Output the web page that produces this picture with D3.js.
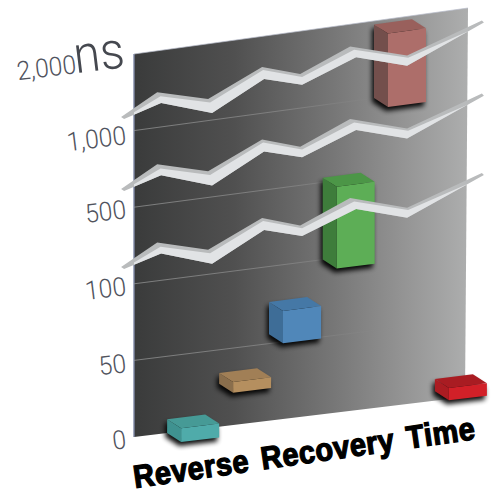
<!DOCTYPE html>
<html>
<head>
<meta charset="utf-8">
<script src="https://cdn.jsdelivr.net/npm/d3@7"></script>
<style>
html,body{margin:0;padding:0;background:#fff}
svg{display:block}
</style>
</head>
<body>
<svg id="chart" width="494" height="493"></svg>
<script>
// Axis rungs are evenly spaced, so the nanosecond scale is piecewise.
const tickValues = [0, 50, 100, 500, 1000, 2000];
const tickLabels = ["0", "50", "100", "500", "1,000", "2,000"];

// Devices: recovery-time span (ns) and position along the wall (0-100).
const deviceNames = ["teal", "tan", "blue", "green", "rose", "red"];
const deviceLow = [0, 28, 56, 100, 1000, 6];
const deviceHigh = [9, 35, 77, 530, 1950, 14];
const devicePos = [10, 25.7, 40.8, 57, 72.5, 90.9];
const deviceFront = ["#4fabaa", "#b58f5f", "#5087b9", "#5dae56", "#ad6e6a", "#d22028"];
const deviceSide = ["#3f9290", "#8a6e4c", "#3e6d97", "#3e7d3b", "#734f4c", "#ab1c22"];
const deviceTop = ["#469a96", "#a17f56", "#4578a6", "#4c9647", "#99605c", "#a91c22"];

// Axis-break ribbons: edges of the uppermost ribbon, in rungs, and where the others sit.
const ribbonOffsets = [0, -0.94, -1.96];
const backPos = [-3.9, 7.0, 22.4, 38.7, 50.2, 65.3, 82.5, 105.1];
const backRung = [4.20, 4.46, 4.28, 4.60, 4.44, 4.71, 4.49, 4.81];
const lowerPos = [-3.0, 8.2, 23.6, 39.3, 50.8, 67.1, 82.5, 105.7];
const lowerRung = [4.17, 4.31, 4.09, 4.44, 4.30, 4.56, 4.36, 4.78];
const upperPos = [0, 8.0, 23, 39, 50.8, 66.5, 82.8, 100.6];
const upperRung = [4.24, 4.40, 4.23, 4.56, 4.40, 4.66, 4.46, 4.69];

const titleText = "Reverse Recovery Time";
const unitText = "ns";

const x = d3.scaleLinear().domain([0, 100]).range([134, 465]);
const rung = d3.scaleLinear().domain(tickValues).range(d3.range(tickValues.length));
const yLeft = d3.scaleLinear().domain([0, 5]).range([437, 54]);
const yRight = d3.scaleLinear().domain([0, 5]).range([397, 8]);

// Pixel height of a rung at a position along the skewed wall.
const wallY = (r, p) => yLeft(r) + (yRight(r) - yLeft(r)) * p / 100;
const wallPoint = (r, p) => [x(p), wallY(r, p)];
const pathOf = pts => "M" + pts.map(q => q[0].toFixed(1) + "," + q[1].toFixed(1)).join("L") + "Z";

const svg = d3.select("#chart");
const defs = svg.append("defs");

const wallGrad = defs.append("linearGradient").attr("id", "wallFill");
[[0, "#3a3b3b"], [0.3, "#505050"], [0.6, "#777777"], [0.8, "#939393"], [1, "#adaeae"]].forEach(s =>
  wallGrad.append("stop").attr("offset", s[0]).attr("stop-color", s[1]));

const gridGrad = defs.append("linearGradient").attr("id", "gridFade")
  .attr("gradientUnits", "userSpaceOnUse").attr("x1", x(0)).attr("x2", x(80)).attr("y1", 0).attr("y2", 0);
gridGrad.append("stop").attr("offset", 0).attr("stop-color", "#9a9b9b");
gridGrad.append("stop").attr("offset", 0.6).attr("stop-color", "#8a8a8a");
gridGrad.append("stop").attr("offset", 1).attr("stop-color", "#8a8a8a").attr("stop-opacity", 0);

defs.append("filter").attr("id", "soft").attr("x", "-40%").attr("y", "-40%").attr("width", "180%").attr("height", "180%")
  .append("feGaussianBlur").attr("stdDeviation", 2.6);

const wallCorners = [
  [x(0), wallY(0, 0)],
  [x(0), wallY(5, 0)],
  [x(100.9), wallY(5, 100)],
  [x(100), wallY(0, 100)]
];
defs.append("clipPath").attr("id", "wallClip").append("path").attr("d", pathOf(wallCorners));

// Wall
svg.append("path").attr("d", pathOf(wallCorners)).attr("fill", "url(#wallFill)");
svg.append("line")
  .attr("x1", x(0)).attr("x2", x(0)).attr("y1", wallY(0, 0)).attr("y2", wallY(5, 0))
  .attr("stroke", "#7e88a6").attr("stroke-width", 1.4);
svg.append("line")
  .attr("x1", x(0)).attr("x2", x(100.9)).attr("y1", wallY(5, 0)).attr("y2", wallY(5, 100))
  .attr("stroke", "#b9bdcc").attr("stroke-width", 0.7);

// Gridlines
svg.append("g").selectAll("line").data(d3.range(1, 5)).join("line")
  .attr("x1", x(0)).attr("y1", r => wallY(r, 0))
  .attr("x2", x(100)).attr("y2", r => wallY(r, 100))
  .attr("stroke", "url(#gridFade)").attr("stroke-width", 0.7);

// Devices as boxes standing against the wall
const barWidth = 11.5;
const depth = [14, 9];
const devices = deviceNames.map((name, i) => ({
  name, pos: devicePos[i], low: rung(deviceLow[i]), high: rung(deviceHigh[i]),
  front: deviceFront[i], side: deviceSide[i], top: deviceTop[i]
}));
const boxes = svg.append("g").selectAll("g").data(devices).join("g");

boxes.each(function (d) {
  const g = d3.select(this);
  const bl = wallPoint(d.low, d.pos), tl = wallPoint(d.high, d.pos);
  const br = wallPoint(d.low, d.pos + barWidth), tr = wallPoint(d.high, d.pos + barWidth);
  const out = q => [q[0] + depth[0], q[1] + depth[1]];
  const shadow = [bl, tl, tr, out(tr), out(br), out(bl)].map(q => [q[0] - 2, q[1] + 4]);
  g.append("path").attr("d", pathOf(shadow)).attr("fill", "#000").attr("opacity", 0.95).attr("filter", "url(#soft)");
  g.append("path").attr("d", pathOf([bl, tl, out(tl), out(bl)])).attr("fill", d.side);
  g.append("path").attr("d", pathOf([tl, tr, out(tr), out(tl)])).attr("fill", d.top);
  g.append("path").attr("d", pathOf([out(bl), out(tl), out(tr), out(br)])).attr("fill", d.front);
});

// Axis-break ribbons, a grey edge with a pale face confined to the wall
const edge = (positions, rungs, off) => positions.map((p, i) => wallPoint(rungs[i] + off, p));
const ribbons = svg.append("g").selectAll("g").data(ribbonOffsets).join("g");
ribbons.append("path")
  .attr("d", off => pathOf(edge(backPos, backRung, off).concat(edge(lowerPos, lowerRung, off).reverse())))
  .attr("fill", "#b9bbbc");
ribbons.append("path")
  .attr("clip-path", "url(#wallClip)")
  .attr("d", off => pathOf(edge(upperPos, upperRung, off).concat(edge(lowerPos, lowerRung, off).reverse())))
  .attr("fill", "#e1e3e5");

// Axis labels
const labelFont = "Roboto, 'Liberation Sans', sans-serif";
const labelBase = [448, 372, 295, 218, 144];
svg.append("g").selectAll("text").data(tickLabels.slice(0, 5)).join("text")
  .attr("transform", (d, i) => `translate(127,${labelBase[i]}) rotate(-7) scale(0.95,1)`)
  .attr("text-anchor", "end")
  .attr("font-family", labelFont).attr("font-weight", 300).attr("font-size", 26)
  .attr("fill", "#50535d")
  .text(d => d);
svg.append("text")
  .attr("transform", "translate(77,73) rotate(-7) scale(0.95,1)")
  .attr("text-anchor", "end")
  .attr("font-family", labelFont).attr("font-weight", 300).attr("font-size", 26)
  .attr("fill", "#50535d").text(tickLabels[5]);
svg.append("text")
  .attr("transform", "translate(126,67) rotate(-7) scale(0.92,1)")
  .attr("text-anchor", "end")
  .attr("font-family", labelFont).attr("font-weight", 300).attr("font-size", 52)
  .attr("fill", "#45484f").text(unitText);

// Title
svg.append("text")
  .attr("transform", "translate(135,488) rotate(-8.2) scale(1,1.1)")
  .attr("font-family", "'Liberation Sans', Arial, sans-serif")
  .attr("font-weight", 700).attr("font-size", 29)
  .attr("letter-spacing", 0.5).attr("word-spacing", 4)
  .attr("stroke", "#000").attr("stroke-width", 1.2)
  .attr("fill", "#000").text(titleText);
</script>
</body>
</html>
